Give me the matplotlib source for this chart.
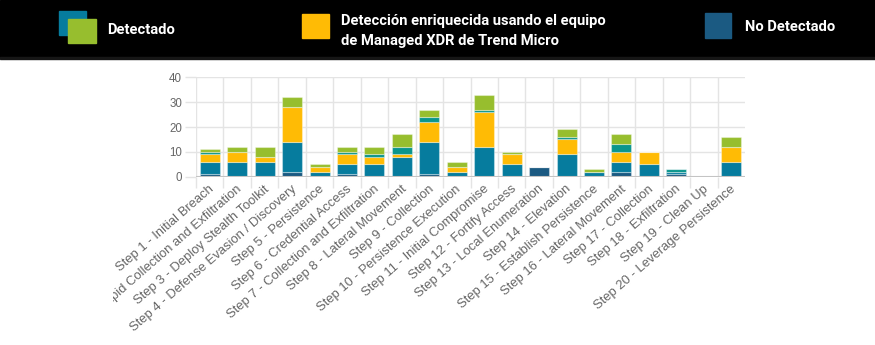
import matplotlib
matplotlib.use("Agg")
import matplotlib.pyplot as plt
from matplotlib.patches import Rectangle
from matplotlib.transforms import Bbox, TransformedBbox
import numpy as np

# MITRE steps on the x axis
steps = [
    "Step 1 - Initial Breach",
    "Step 2 - Rapid Collection and Exfiltration",
    "Step 3 - Deploy Stealth Toolkit",
    "Step 4 - Defense Evasion / Discovery",
    "Step 5 - Persistence",
    "Step 6 - Credential Access",
    "Step 7 - Collection and Exfiltration",
    "Step 8 - Lateral Movement",
    "Step 9 - Collection",
    "Step 10 - Persistence Execution",
    "Step 11 - Initial Compromise",
    "Step 12 - Fortify Access",
    "Step 13 - Local Enumeration",
    "Step 14 - Elevation",
    "Step 15 - Establish Persistence",
    "Step 16 - Lateral Movement",
    "Step 17 - Collection",
    "Step 18 - Exfiltration",
    "Step 19 - Clean Up",
    "Step 20 - Leverage Persistence",
]

# stacked counts, bottom to top
no_detectado = [1, 0, 0, 2, 0, 1, 0, 0, 1, 0, 0, 0, 4, 0, 0, 2, 0, 1, 0, 0]
detect_blue = [5, 6, 6, 12, 2, 4, 5, 8, 13, 2, 12, 5, 0, 9, 2, 4, 5, 1, 0, 6]
mxdr = [3, 4, 2, 14, 2, 4, 3, 1, 8, 2, 14, 4, 0, 6, 0, 4, 5, 0, 0, 6]
detect_teal = [1, 0, 0, 0, 0, 1, 1, 3, 2, 0, 1, 0, 0, 1, 0, 3, 0, 1, 0, 0]
detect_green = [1, 2, 4, 4, 1, 2, 3, 5, 3, 2, 6, 1, 0, 3, 1, 4, 0, 0, 0, 4]

yticks = [0, 10, 20, 30, 40]

c_navy = "#1b5a82"
c_blue = "#067c9e"
c_yellow = "#ffbb05"
c_teal = "#0a958c"
c_green = "#97be2e"

W, H = 875, 345
fig = plt.figure(figsize=(W / 100, H / 100), dpi=100)
fig.patch.set_facecolor("white")


def px(x, y, w=0, h=0):
    # pixel box (top-left origin) -> figure fraction
    return (x / W, 1 - (y + h) / H, w / W, h / H)


# black header band
x0, y0, w0, h0 = px(0, 0, W, 57)
fig.patches.append(Rectangle((x0, y0), w0, h0, transform=fig.transFigure,
                             color="black", zorder=0))
x0, y0, w0, h0 = px(0, 57, W, 2)
fig.patches.append(Rectangle((x0, y0), w0, h0, transform=fig.transFigure,
                             color="#161616", zorder=0))


def square(x, y, w, h, color):
    a, b, c, d = px(x, y, w, h)
    fig.patches.append(Rectangle((a, b), c, d, transform=fig.transFigure,
                                 color=color, zorder=2))


square(59, 11, 27, 24, c_blue)
square(68, 19, 28, 24, c_green)
square(302, 14, 27, 24, c_yellow)
square(705, 13, 26, 25, c_navy)

legend_font = dict(color="white", fontsize=10.6, fontweight="bold",
                   family="Roboto", va="center", ha="left")
fig.text(107 / W, 1 - 30 / H, "Detectado", **legend_font)
fig.text(341 / W, 1 - 21.5 / H, "Detección enriquecida usando el equipo", **legend_font)
fig.text(341 / W, 1 - 40.5 / H, "de Managed XDR de Trend Micro", **legend_font)
fig.text(745 / W, 1 - 27 / H, "No Detectado", **legend_font)

# plot area
ax = fig.add_axes([196 / W, 1 - 176.7 / H, (745 - 196) / W, (176.7 - 77.3) / H])
x = np.arange(1, len(steps) + 1)
bottom = np.zeros(len(steps))
for vals, col in [(no_detectado, c_navy), (detect_blue, c_blue), (mxdr, c_yellow),
                  (detect_teal, c_teal), (detect_green, c_green)]:
    v = np.array(vals, dtype=float)
    ax.bar(x, v, bottom=bottom, width=0.73, color=col,
           edgecolor=(1, 1, 1, 0.35), linewidth=0.8, zorder=3)
    bottom += v

ax.set_xlim(0.5, len(steps) + 0.5)
ax.set_ylim(0, 40)
for s in ax.spines.values():
    s.set_visible(False)

grid_c = "#e4e4e4"
for yv in yticks[1:]:
    ax.axhline(yv, color=grid_c, lw=1, zorder=1)
for b in np.arange(0.5, len(steps), 1.0):
    ax.axvline(b, color=grid_c, lw=1, zorder=1)
ax.axhline(0, color="#c4c4c4", lw=1.5, zorder=4)

ax.set_yticks(yticks)
ax.set_yticklabels([str(t) for t in yticks], family="Liberation Sans",
                   fontsize=8.3, color="#666666")
ax.tick_params(axis="y", length=8, color=grid_c, width=1, pad=2)

ax.set_xticks(np.arange(0.5, len(steps), 1.0))
ax.set_xticklabels([])
ax.tick_params(axis="x", length=8, color=grid_c, width=1)

# rotated step labels, clipped at the left edge of the canvas
clip = TransformedBbox(Bbox([[113 / W, 0], [1, 1]]), fig.transFigure)
for xi, lab in zip(x, steps):
    t = ax.text(xi + 0.1, -0.11, lab, transform=ax.get_xaxis_transform(),
                rotation=41, rotation_mode="anchor", ha="right", va="center",
                family="Liberation Sans", fontsize=9.4, color="#666666")
    t.set_clip_on(True)
    t.set_clip_box(clip)

fig.savefig("out.png", dpi=100, facecolor="white")
